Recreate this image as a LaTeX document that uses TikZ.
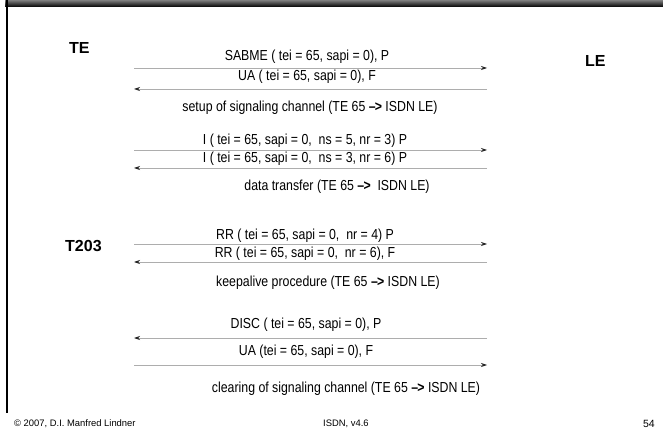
\documentclass[tikz,border=0pt]{standalone}
\usepackage{fontspec}
\setmainfont{Liberation Sans}
\newfontfamily\narrowfont[FakeStretch=0.85]{Liberation Sans}
\usetikzlibrary{arrows.meta}
\newcommand{\toarrow}{{\bfseries\textendash\kern-0.8pt>}}

\begin{document}
\begin{tikzpicture}[x=1pt,y=-1pt,
  msg/.style={draw=black!32, line width=0.7pt,
    -{Stealth[length=6pt,width=4pt,inset=2pt,black!85]}},
  lbl/.style={inner sep=0pt, font=\narrowfont\fontsize{14.5}{16}\selectfont},
  ent/.style={inner sep=0pt, anchor=west, font=\bfseries\fontsize{16}{18}\selectfont},
  foot/.style={inner sep=0pt, font=\fontsize{9.4}{11}\selectfont}]
\useasboundingbox (0,0) rectangle (663,435);

% slide header bar and left rule
\shade[top color=black!50, middle color=white, bottom color=black] (5,0) rectangle (663,7);
\draw[line width=1.6pt] (6.7,0) -- (6.7,413);

% entities
\node[ent] (te) at (69,48) {TE};
\node[ent] (le) at (585,61) {LE};
\node[ent] (t203) at (65,246) {T203};

% arrow end points
\foreach \n/\y in {1/68,2/89,3/150,4/168,5/244,6/262,7/338,8/365}{
  \coordinate (l\n) at (134,\y);
  \coordinate (r\n) at (487,\y);
}

% link setup
\node[lbl] (m1) at (307,57) {SABME ( tei = 65, sapi = 0), P};
\draw[msg] (l1) -- (r1);
\node[lbl] (m2) at (307,77) {UA ( tei = 65, sapi = 0), F};
\draw[msg] (r2) -- (l2);
\node[lbl] (c1) at (310,108) {setup of signaling channel (TE 65 \toarrow{} ISDN LE)};

% data transfer
\node[lbl] (m3) at (305,141) {I ( tei = 65, sapi = 0,\ \ ns = 5, nr = 3) P};
\draw[msg] (l3) -- (r3);
\node[lbl] (m4) at (305,159) {I ( tei = 65, sapi = 0,\ \ ns = 3, nr = 6) P};
\draw[msg] (r4) -- (l4);
\node[lbl] (c2) at (337,187) {data transfer (TE 65 \toarrow\ \ ISDN LE)};

% keepalive
\node[lbl] (m5) at (305,236) {RR ( tei = 65, sapi = 0,\ \ nr = 4) P};
\draw[msg] (l5) -- (r5);
\node[lbl] (m6) at (305,254) {RR ( tei = 65, sapi = 0,\ \ nr = 6), F};
\draw[msg] (r6) -- (l6);
\node[lbl] (c3) at (328,283) {keepalive procedure (TE 65 \toarrow{} ISDN LE)};

% link release
\node[lbl] (m7) at (306,325) {DISC ( tei = 65, sapi = 0), P};
\draw[msg] (r7) -- (l7);
\node[lbl] (m8) at (306,352) {UA (tei = 65, sapi = 0), F};
\draw[msg] (l8) -- (r8);
\node[lbl] (c4) at (346,389) {clearing of signaling channel (TE 65 \toarrow{} ISDN LE)};

% footer
\node[foot, anchor=west] (f1) at (14,424) {\textcopyright{} 2007, D.I. Manfred Lindner};
\node[foot, anchor=west] (f2) at (323,424) {ISDN, v4.6};
\node[foot, anchor=east, font=\fontsize{10.5}{12}\selectfont] (f3) at (655,424) {54};
\end{tikzpicture}
\end{document}
